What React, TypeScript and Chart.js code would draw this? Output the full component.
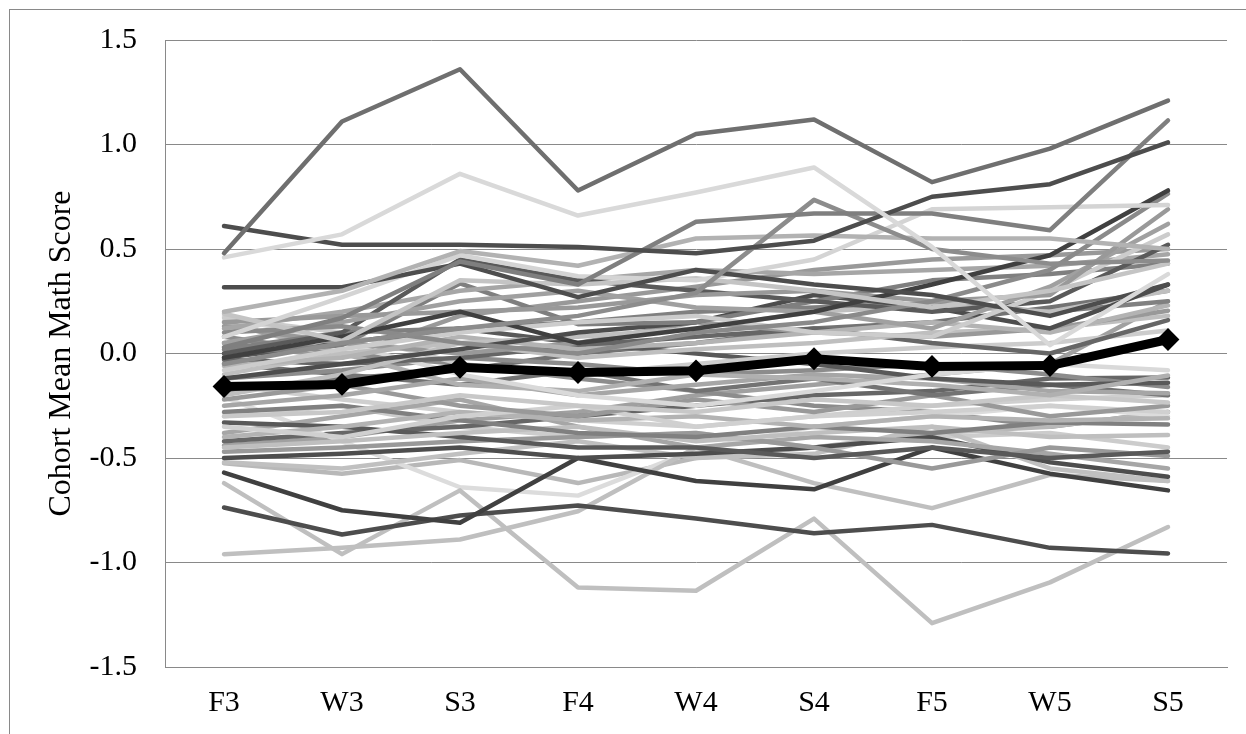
import React, { useEffect, useRef } from "react";
import { Chart, registerables } from "chart.js";

Chart.register(...registerables);

const categories = ["F3", "W3", "S3", "F4", "W4", "S4", "F5", "W5", "S5"];
const meanScores = [-0.158, -0.148, -0.066, -0.091, -0.083, -0.025, -0.062, -0.058, 0.067];
const yTickValues = [-1.5, -1.0, -0.5, 0.0, 0.5, 1.0, 1.5];
const yAxisTitle = "Cohort Mean Math Score";

// Each row: one cohort's mean score at F3, W3, S3, F4, W4, S4, F5, W5, S5
const cohortScores: number[][] = [
  [0.48, 1.11, 1.36, 0.78, 1.05, 1.12, 0.82, 0.98, 1.21],
  [0.46, 0.57, 0.86, 0.66, 0.77, 0.89, 0.51, 0.04, 0.38],
  [0.61, 0.52, 0.52, 0.51, 0.48, 0.54, 0.75, 0.81, 1.01],
  [0.03, 0.17, 0.44, 0.33, 0.63, 0.67, 0.67, 0.59, 1.115],
  [-0.05, 0.05, 0.12, 0.18, 0.29, 0.735, 0.5, 0.43, 0.445],
  [0.2, 0.3, 0.49, 0.42, 0.55, 0.565, 0.55, 0.55, 0.5],
  [0.317, 0.317, 0.43, 0.27, 0.4, 0.33, 0.28, 0.18, 0.33],
  [0.08, 0.27, 0.47, 0.37, 0.35, 0.45, 0.69, 0.7, 0.71],
  [0.19, 0.06, 0.35, 0.33, 0.36, 0.3, 0.22, 0.3, 0.43],
  [-0.02, 0.08, 0.2, 0.05, 0.12, 0.2, 0.33, 0.47, 0.78],
  [0.1, 0.13, 0.05, 0.0, 0.1, 0.15, 0.25, 0.4, 0.765],
  [0.15, 0.18, 0.2, 0.22, 0.28, 0.3, 0.25, 0.28, 0.69],
  [0.05, 0.15, 0.25, 0.3, 0.22, 0.2, 0.12, 0.32, 0.62],
  [-0.08, 0.02, 0.1, 0.15, 0.18, 0.1, 0.08, 0.3, 0.57],
  [0.0, 0.1, 0.45, 0.35, 0.3, 0.25, 0.2, 0.25, 0.52],
  [0.12, 0.2, 0.3, 0.35, 0.4, 0.38, 0.4, 0.42, 0.475],
  [0.0, 0.04, 0.335, 0.14, 0.15, 0.25, 0.35, 0.38, 0.43],
  [-0.12, -0.05, 0.02, 0.1, 0.15, 0.28, 0.22, 0.12, 0.33],
  [-0.2, -0.1, 0.05, 0.08, 0.12, 0.2, 0.23, 0.2, 0.3],
  [0.02, 0.1, 0.12, 0.15, 0.2, 0.22, 0.24, 0.2, 0.25],
  [-0.06, -0.02, 0.08, 0.02, 0.05, 0.1, 0.15, 0.1, 0.23],
  [0.13, 0.05, 0.0, 0.05, 0.15, 0.1, 0.08, 0.12, 0.205],
  [-0.1, 0.0, 0.05, -0.02, 0.02, 0.05, 0.1, 0.12, 0.18],
  [-0.03, -0.05, -0.02, 0.04, 0.08, 0.12, 0.05, 0.0, 0.16],
  [0.17, 0.1, -0.05, -0.1, -0.05, 0.0, 0.03, 0.05, 0.11],
  [0.18, 0.05, -0.1, -0.2, -0.25, -0.18, -0.1, -0.05, -0.08],
  [0.15, 0.0, -0.15, -0.18, -0.1, -0.12, -0.15, -0.2, -0.105],
  [-0.02, 0.05, 0.12, 0.05, 0.0, -0.05, -0.12, -0.15, -0.14],
  [-0.12, -0.08, -0.02, -0.05, -0.1, -0.08, -0.05, -0.1, -0.16],
  [-0.25, -0.2, -0.12, -0.2, -0.15, -0.1, -0.12, -0.18, -0.19],
  [-0.05, -0.1, -0.15, -0.08, -0.18, -0.12, -0.2, -0.15, -0.2],
  [-0.3, -0.28, -0.2, -0.25, -0.28, -0.22, -0.25, -0.2, -0.235],
  [-0.22, -0.15, -0.25, -0.3, -0.22, -0.28, -0.2, -0.3, -0.25],
  [-0.35, -0.4, -0.3, -0.25, -0.35, -0.3, -0.28, -0.25, -0.28],
  [-0.4, -0.35, -0.28, -0.32, -0.3, -0.35, -0.3, -0.32, -0.31],
  [-0.28, -0.25, -0.32, -0.38, -0.4, -0.35, -0.38, -0.33, -0.34],
  [-0.45, -0.42, -0.38, -0.35, -0.42, -0.38, -0.35, -0.4, -0.39],
  [-0.33, -0.35, -0.4, -0.45, -0.45, -0.5, -0.45, -0.5, -0.47],
  [-0.47, -0.45, -0.42, -0.4, -0.38, -0.45, -0.55, -0.45, -0.49],
  [-0.38, -0.3, -0.22, -0.35, -0.45, -0.4, -0.42, -0.48, -0.55],
  [-0.5, -0.48, -0.45, -0.5, -0.48, -0.45, -0.4, -0.52, -0.59],
  [-0.52, -0.55, -0.48, -0.42, -0.5, -0.48, -0.35, -0.55, -0.61],
  [-0.57, -0.75, -0.81, -0.5, -0.61, -0.65, -0.45, -0.575, -0.655],
  [-0.737, -0.866, -0.775, -0.727, -0.79, -0.86, -0.82, -0.93, -0.957],
  [-0.96, -0.93, -0.89, -0.755, -0.45, -0.62, -0.74, -0.58, -0.61],
  [-0.62, -0.96, -0.655, -1.12, -1.135, -0.79, -1.29, -1.095, -0.83],
  [-0.21, -0.42, -0.64, -0.68, -0.46, -0.35, -0.3, -0.25, -0.3],
  [-0.525, -0.575, -0.51, -0.62, -0.5, -0.45, -0.38, -0.35, -0.28],
  [-0.42, -0.38, -0.35, -0.3, -0.25, -0.2, -0.18, -0.12, -0.115],
  [-0.15, -0.22, -0.28, -0.32, -0.35, -0.3, -0.25, -0.22, -0.2],
  [0.08, 0.0, -0.05, -0.12, -0.18, -0.25, -0.28, -0.35, -0.28],
  [-0.18, -0.12, -0.08, 0.0, 0.05, 0.12, 0.15, 0.22, 0.3],
  [-0.44, -0.4, -0.32, -0.28, -0.2, -0.15, -0.1, -0.05, 0.25],
  [0.05, -0.02, 0.18, 0.25, 0.32, 0.4, 0.45, 0.47, 0.5],
  [-0.3, -0.25, -0.35, -0.4, -0.38, -0.45, -0.4, -0.38, -0.45],
];

const cohortColors = [
  "#6f6f6f", "#d9d9d9", "#4d4d4d", "#7f7f7f", "#8c8c8c", "#b2b2b2", "#4d4d4d", "#d4d4d4",
  "#c4c4c4", "#404040", "#8a8a8a", "#999999", "#a0a0a0", "#cccccc", "#5a5a5a", "#a6a6a6",
  "#7f7f7f", "#4d4d4d", "#bfbfbf", "#808080", "#b3b3b3", "#999999", "#bfbfbf", "#666666",
  "#cccccc", "#d9d9d9", "#b0b0b0", "#595959", "#8c8c8c", "#a6a6a6", "#737373", "#c8c8c8",
  "#999999", "#d0d0d0", "#b3b3b3", "#808080", "#bfbfbf", "#595959", "#999999", "#a6a6a6",
  "#4d4d4d", "#c0c0c0", "#404040", "#4d4d4d", "#bfbfbf", "#bfbfbf", "#dcdcdc", "#b8b8b8",
  "#666666", "#cfcfcf", "#8c8c8c", "#737373", "#a0a0a0", "#999999", "#cccccc",
];

export default function App() {
  const canvasRef = useRef<HTMLCanvasElement>(null);

  useEffect(() => {
    if (!canvasRef.current) return;
    const family = "'Liberation Serif', 'Times New Roman', serif";
    const gridColor = "#898989";
    const chart = new Chart(canvasRef.current, {
      type: "line",
      data: {
        labels: categories,
        datasets: [
          {
            label: "Mean",
            data: meanScores,
            borderColor: "#000000",
            backgroundColor: "#000000",
            borderWidth: 9,
            pointStyle: "rectRot",
            pointRadius: 10,
            pointBorderWidth: 2,
            pointBorderColor: "#000000",
            pointBackgroundColor: "#000000",
            tension: 0,
            borderJoinStyle: "round",
          },
          ...cohortScores.map((values, i) => ({
            label: `Cohort ${i + 1}`,
            data: values,
            borderColor: cohortColors[i],
            backgroundColor: cohortColors[i],
            borderWidth: 4.5,
            pointRadius: 0,
            tension: 0,
            borderCapStyle: "round" as const,
            borderJoinStyle: "round" as const,
          })),
        ],
      },
      options: {
        responsive: false,
        animation: false,
        layout: { padding: { left: 0, top: 40, right: 19, bottom: 0 } },
        plugins: {
          legend: { display: false },
          tooltip: { enabled: false },
        },
        scales: {
          x: {
            offset: true,
            grid: { display: false, drawTicks: false },
            border: { display: true, color: gridColor, width: 1 },
            ticks: {
              padding: 18,
              color: "#000000",
              font: { family, size: 30 },
              maxRotation: 0,
            },
            afterFit: (scale: any) => {
              scale.height = 67;
              scale.paddingLeft = 0;
              scale.paddingRight = 0;
            },
          },
          y: {
            min: -1.5,
            max: 1.5,
            afterBuildTicks: (scale: any) => {
              scale.ticks = yTickValues.map((v) => ({ value: v }));
            },
            ticks: {
              padding: 28,
              color: "#000000",
              font: { family, size: 30 },
              callback: (v: any) => Number(v).toFixed(1),
            },
            grid: { color: gridColor, lineWidth: 1, drawTicks: false },
            border: { display: true, color: gridColor, width: 1 },
            title: {
              display: true,
              text: yAxisTitle,
              color: "#000000",
              font: { family, size: 32 },
              padding: { top: 42, bottom: 0 },
            },
            afterFit: (scale: any) => {
              scale.width = 165;
              scale.paddingTop = 0;
              scale.paddingBottom = 0;
            },
          },
        },
      },
    });
    return () => chart.destroy();
  }, []);

  return (
    <div
      style={{
        position: "fixed",
        left: 0,
        top: 0,
        width: 1246,
        height: 734,
        background: "#ffffff",
        overflow: "hidden",
      }}
    >
      <div
        style={{
          position: "absolute",
          left: 9,
          top: 9,
          right: 0,
          bottom: 0,
          borderTop: "1px solid #898989",
          borderLeft: "1px solid #898989",
        }}
      />
      <canvas
        ref={canvasRef}
        width={1246}
        height={734}
        style={{ position: "absolute", left: 0, top: 0, width: 1246, height: 734 }}
      />
    </div>
  );
}
